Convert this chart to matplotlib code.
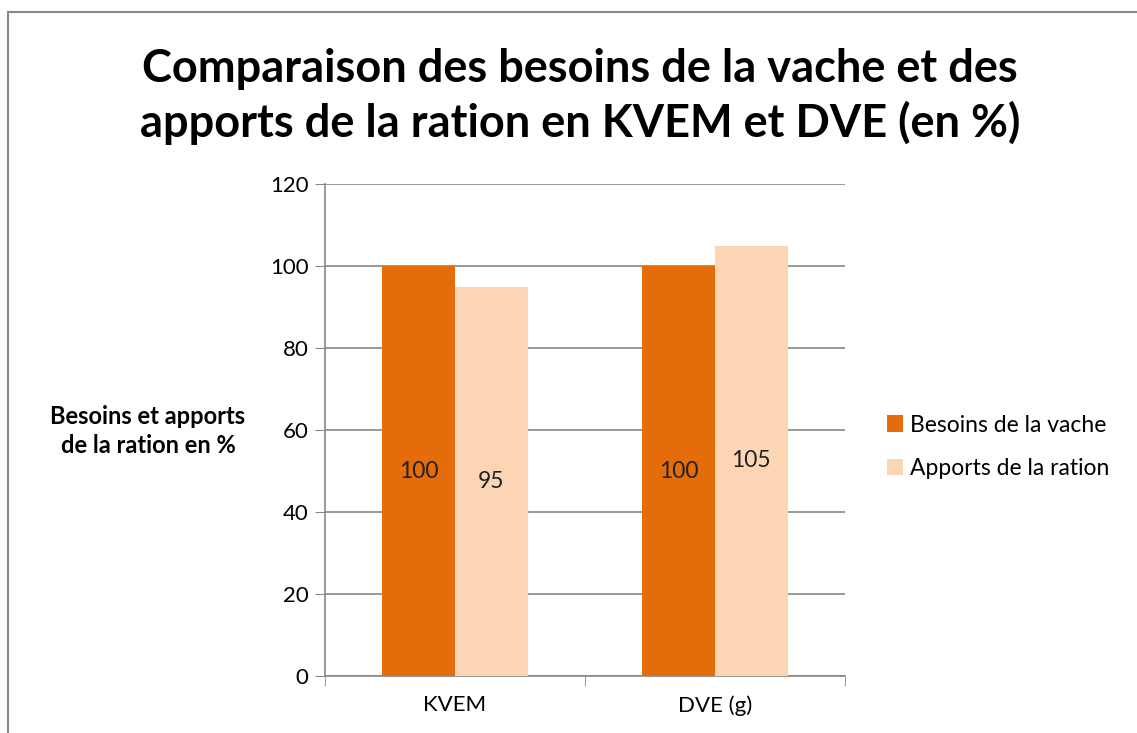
import matplotlib.pyplot as plt
import matplotlib.patches as mpatches
import numpy as np

categories = ['KVEM', 'DVE (g)']
besoins = [100, 100]
apports = [95, 105]
series_names = ['Besoins de la vache', 'Apports de la ration']

plt.rcParams['font.family'] = ['Lato', 'DejaVu Sans']

fig = plt.figure(figsize=(11.37, 7.33), dpi=100)
ax = fig.add_axes([325/1137, 1 - 676/733, 520/1137, 492/733])

x = np.arange(len(categories))
width = 0.28
r1 = ax.bar(x - width/2, besoins, width, color='#E46C0A', label=series_names[0], zorder=3)
r2 = ax.bar(x + width/2, apports, width, color='#FCD5B5', label=series_names[1], zorder=3)

for rects in (r1, r2):
    for r in rects:
        h = r.get_height()
        ax.text(r.get_x() + r.get_width()/2, h/2, f'{h:g}', ha='center', va='center',
                fontsize=16.5, color='#222222', zorder=4)

ax.set_xlim(-0.5, 1.5)
ax.set_ylim(0, 120)
ax.set_yticks(range(0, 121, 20))
ax.set_xticks(x, categories)
ax.set_xticks([-0.5, 0.5, 1.5], minor=True)
ax.tick_params(axis='x', which='major', length=0, pad=14, labelsize=16)
ax.tick_params(axis='x', which='minor', length=7, color='#888888')
ax.tick_params(axis='y', length=7, color='#888888', labelsize=16, pad=5)
ax.grid(axis='y', color='#888888', linewidth=1.2, zorder=0)
for s in ['top', 'right']:
    ax.spines[s].set_visible(False)
for s in ['left', 'bottom']:
    ax.spines[s].set_color('#888888')
    ax.spines[s].set_linewidth(1.2)

fig.text(0.51, 0.869, 'Comparaison des besoins de la vache et des\napports de la ration en KVEM et DVE (en %)',
         ha='center', va='center', fontsize=32.5, fontweight='bold', linespacing=1.3)
fig.text(148/1137, 1 - 431/733, 'Besoins et apports\nde la ration en %', ha='center', va='center',
         fontsize=17, fontweight='bold', linespacing=1.35)

fig.legend(loc='center left', bbox_to_anchor=(866/1137, 1 - 447/733), frameon=False,
           fontsize=16.5, handlelength=0.7, handleheight=0.7, handletextpad=0.3, labelspacing=1.0)

fig.add_artist(mpatches.Rectangle((8/1137, -0.1), 1.2, 1 - 12/733 + 0.1, transform=fig.transFigure,
                                  fill=False, edgecolor='#888888', linewidth=1.5))

fig.savefig('out.png', dpi=100)
